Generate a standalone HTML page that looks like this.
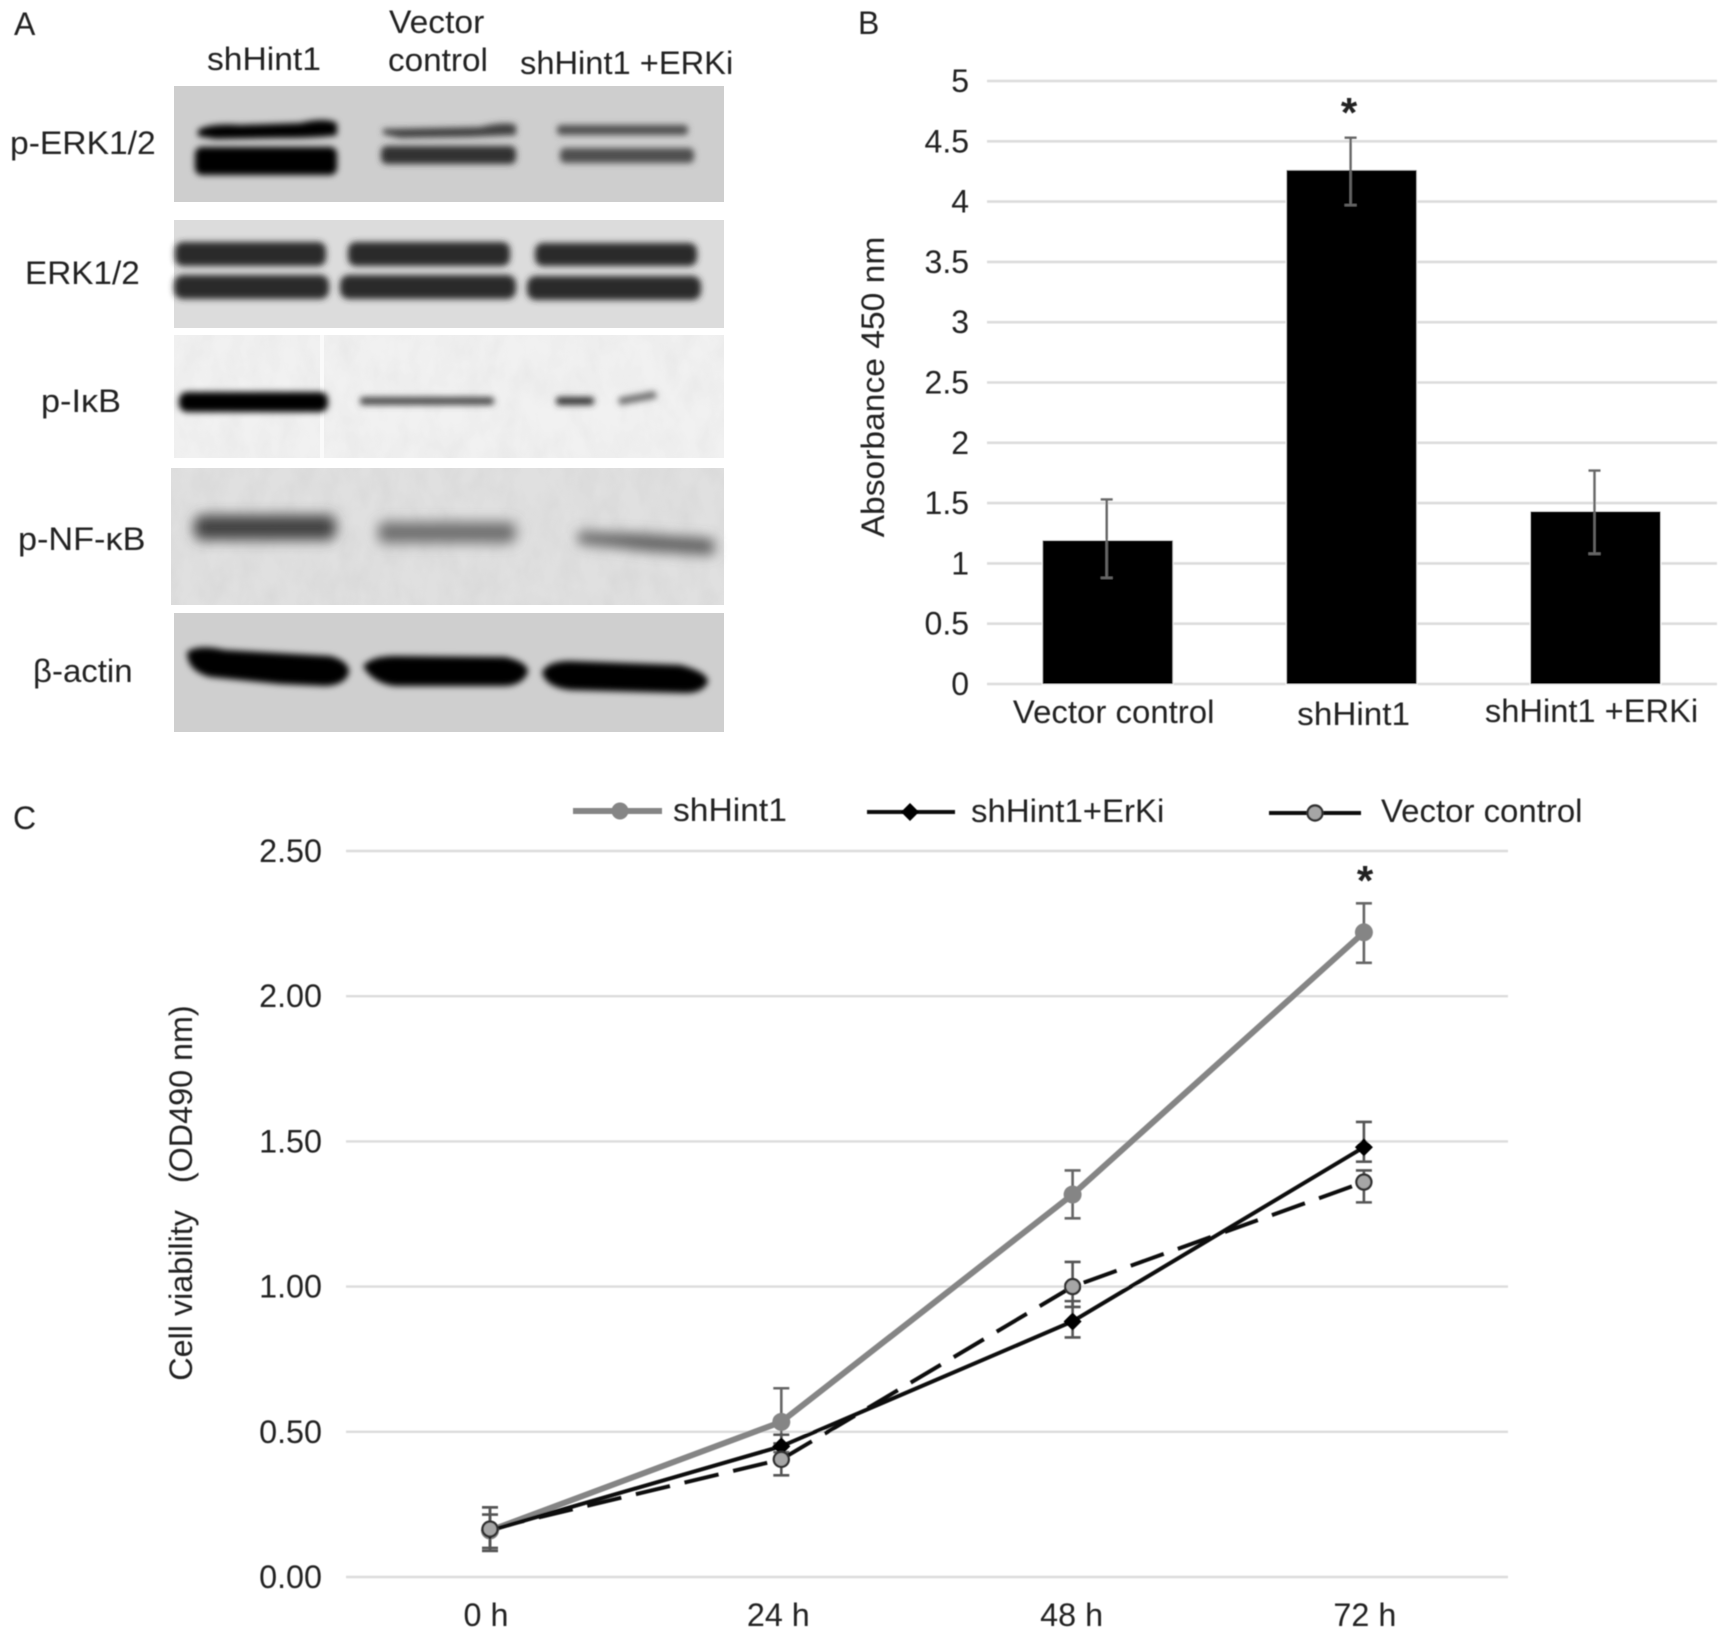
<!DOCTYPE html>
<html lang="en">
<head>
<meta charset="utf-8">
<title>Western blots, absorbance and cell viability</title>
<style>
  html, body { margin: 0; padding: 0; background: #fff; }
  svg { display: block; }
  text { font-family: "Liberation Sans", sans-serif; fill: #222; font-size: 32px; white-space: pre; }
</style>
</head>
<body>
<svg id="fig" xmlns="http://www.w3.org/2000/svg" width="1732" height="1638" viewBox="0 0 1732 1638">
  <defs>
    <filter id="soft" x="-5%" y="-5%" width="110%" height="110%"><feGaussianBlur stdDeviation="0.6"/></filter>
    <filter id="band" x="-10%" y="-80%" width="120%" height="260%"><feGaussianBlur stdDeviation="3.1"/></filter>
    <filter id="bandwide" x="-10%" y="-80%" width="120%" height="260%"><feGaussianBlur stdDeviation="6.5"/></filter>
    <filter id="grain" x="0" y="0" width="100%" height="100%">
      <feTurbulence type="fractalNoise" baseFrequency="0.05 0.03" numOctaves="3" seed="7"/>
      <feColorMatrix type="matrix" values="0 0 0 0 0.45  0 0 0 0 0.45  0 0 0 0 0.45  0.9 0 0 0 -0.3"/>
    </filter>
  </defs>

  <g id="panel-a">
    <g>
      <rect x="174" y="86" width="550" height="116" fill="#cecece"/>
      <g filter="url(#band)">
        <path d="M198 130 Q210 123 240 125 L300 123 Q325 117 337 123 L337 135 Q320 138 280 138 L215 139 L198 136Z" fill="#000"/>
        <rect x="195" y="147" width="142" height="28" rx="7" fill="#000"/>
        <path d="M383 129 L480 127 Q505 121 516 125 L516 135 L470 137 L400 138 L383 134Z" fill="#404040"/>
        <rect x="381" y="146" width="135" height="18" rx="6" fill="#303030"/>
        <rect x="557" y="125" width="131" height="10" rx="4" fill="#505050"/>
        <rect x="560" y="148" width="134" height="15" rx="5" fill="#505050"/>
      </g>
    </g>
    <g>
      <rect x="174" y="220" width="550" height="108" fill="#dcdcdc"/>
      <g filter="url(#band)" fill="#2c2c2c">
        <rect x="175" y="242" width="151" height="24" rx="8"/>
        <rect x="348" y="242" width="162" height="24" rx="8"/>
        <rect x="535" y="243" width="162" height="23" rx="8"/>
        <rect x="174" y="275" width="155" height="24" rx="9"/>
        <rect x="340" y="275" width="176" height="24" rx="9"/>
        <rect x="527" y="276" width="174" height="24" rx="9"/>
      </g>
    </g>
    <g>
      <rect x="174" y="335" width="550" height="123" fill="#f1f1f1"/>
      <rect x="174" y="335" width="550" height="123" filter="url(#grain)" opacity="0.22"/>
      <rect x="320" y="335" width="4" height="123" fill="#fafafa"/>
      <g filter="url(#band)">
        <rect x="179" y="392" width="149" height="20" rx="8" fill="#000"/>
        <rect x="360" y="397" width="134" height="8" rx="3" fill="#4c4c4c"/>
        <rect x="556" y="397" width="38" height="8" rx="3" fill="#303030"/>
        <path d="M618 398 L655 391 L657 398 L620 405Z" fill="#6a6a6a"/>
      </g>
    </g>
    <g>
      <rect x="171" y="468" width="553" height="137" fill="#e0e0e0"/>
      <rect x="171" y="468" width="553" height="137" filter="url(#grain)" opacity="0.3"/>
      <g filter="url(#bandwide)">
        <rect x="194" y="515" width="142" height="25" rx="8" fill="#424242"/>
        <rect x="378" y="522" width="138" height="21" rx="7" fill="#6e6e6e"/>
        <path d="M578 532 L640 534 L714 539 L714 555 L650 551 L578 543Z" fill="#5c5c5c"/>
      </g>
    </g>
    <g>
      <rect x="174" y="613" width="550" height="119" fill="#cfcfcf"/>
      <g filter="url(#band)" fill="#000">
        <path d="M187 652 Q198 644 225 650 L330 656 Q349 661 349 672 Q346 685 325 686 L280 684 L210 677 Q187 671 187 652Z"/>
        <path d="M363 666 Q372 656 395 656 L505 657 Q528 662 528 672 Q523 685 505 686 L395 686 Q372 683 363 666Z"/>
        <path d="M542 672 Q548 661 570 661 L680 665 Q708 672 708 682 Q703 693 685 693 L570 690 Q545 687 542 672Z"/>
      </g>
    </g>
  </g>

  <g id="chart-b" filter="url(#soft)"></g>
  <g id="chart-c" filter="url(#soft)"></g>
  <g id="labels" filter="url(#soft)"></g>
</svg>

<script>
/* Panel B data */
const barCategories = ['Vector control', 'shHint1', 'shHint1 +ERKi'];
const barValues = [1.19, 4.26, 1.43];
const barErrUpper = [1.53, 4.53, 1.77];
const barErrLower = [0.88, 3.97, 1.08];
const barTicks = [0, 0.5, 1, 1.5, 2, 2.5, 3, 3.5, 4, 4.5, 5];
const barTickLabels = ['0', '0.5', '1', '1.5', '2', '2.5', '3', '3.5', '4', '4.5', '5'];

/* Panel C data */
const timeCategories = ['0 h', '24 h', '48 h', '72 h'];
const lineTicks = [0, 0.5, 1, 1.5, 2, 2.5];
const lineTickLabels = ['0.00', '0.50', '1.00', '1.50', '2.00', '2.50'];
const shHintValues = [0.16, 0.534, 1.317, 2.22];
const shHintUpper = [0.24, 0.65, 1.40, 2.32];
const shHintLower = [0.09, 0.43, 1.235, 2.115];
const erkiValues = [0.16, 0.45, 0.88, 1.48];
const erkiUpper = [0.215, 0.49, 0.95, 1.567];
const erkiLower = [0.10, 0.41, 0.825, 1.43];
const vectorValues = [0.165, 0.405, 1.0, 1.36];
const vectorUpper = [0.24, 0.46, 1.085, 1.40];
const vectorLower = [0.09, 0.35, 0.93, 1.29];

const NS = 'http://www.w3.org/2000/svg';
function mk(tag, parent) {
  const el = document.createElementNS(NS, tag);
  parent.appendChild(el);
  return el;
}
function setAll(el, attrs) {
  for (const k in attrs) el.setAttribute(k, attrs[k]);
  return el;
}
function fitText(el, x, y, str, stretch) {
  el.textContent = str;
  el.setAttribute('x', x);
  el.setAttribute('y', y);
  if (stretch && stretch !== 1) {
    const w = el.getComputedTextLength();
    el.setAttribute('textLength', (w * stretch).toFixed(1));
    el.setAttribute('lengthAdjust', 'spacingAndGlyphs');
  }
  return el;
}

const chartB = document.getElementById('chart-b');
const chartC = document.getElementById('chart-c');
const labels = document.getElementById('labels');

/* ---------- Panel B ---------- */
const bY = v => 684 - v * 120.6;
const bX = i => 1107.7 + i * 243.9;
const barWidth = 130;
const barLabelStretch = [1.03, 1.04, 1.02];
const barLabelNudge = [6, 2, -4];
const barLabelBase = [723, 725, 722];

barTicks.forEach((t, i) => {
  const g = mk('line', chartB);
  
  
  setAll(g, { x1: 987, x2: 1717, y1: bY(t), y2: bY(t), stroke: '#dcdcdc', 'stroke-width': 2.6 });
  const tx = mk('text', labels);
  
  
  tx.setAttribute('text-anchor', 'end');
  fitText(tx, 969, bY(t) + 11, barTickLabels[i], 1);
});

barValues.forEach((v, i) => {
  const r = mk('rect', chartB);
  
  
  setAll(r, { x: bX(i) - barWidth / 2, y: bY(v), width: barWidth, height: bY(0) - bY(v), fill: '#000', stroke: '#fff', 'stroke-width': 2, 'paint-order': 'stroke' });
  const e = mk('path', chartB);
  
  
  const top = bY(barErrUpper[i]), bot = bY(barErrLower[i]), c = bX(i) - 1;
  setAll(e, { d: `M${c} ${top}V${bot}M${c - 6} ${top}H${c + 6}M${c - 6} ${bot}H${c + 6}`, fill: 'none', stroke: '#666', 'stroke-width': 2.4 });
  const tx = mk('text', labels);
  
  
  tx.setAttribute('text-anchor', 'middle');
  fitText(tx, bX(i) + barLabelNudge[i], barLabelBase[i], barCategories[i], barLabelStretch[i]);
});

/* ---------- Panel C ---------- */
const cY = v => 1577 - v * 290.4;
const cX = i => 490 + i * 291.3;
const timeNudge = [-4, -3, -1, 1];

lineTicks.forEach((t, i) => {
  const g = mk('line', chartC);
  
  
  setAll(g, { x1: 346, x2: 1508, y1: cY(t), y2: cY(t), stroke: '#dcdcdc', 'stroke-width': 2.4 });
  const tx = mk('text', labels);
  
  
  tx.setAttribute('text-anchor', 'end');
  fitText(tx, 322, cY(t) + 11, lineTickLabels[i], 1.01);
});

timeCategories.forEach((c, i) => {
  const tx = mk('text', labels);
  
  
  tx.setAttribute('text-anchor', 'middle');
  fitText(tx, cX(i) + timeNudge[i], 1626, c, 1.01);
});

function drawErrors(upper, lower, color, width) {
  upper.forEach((u, i) => {
    const e = mk('path', chartC);
    
    
    const top = cY(u), bot = cY(lower[i]), c = cX(i);
    setAll(e, { d: `M${c} ${top}V${bot}M${c - 8} ${top}H${c + 8}M${c - 8} ${bot}H${c + 8}`, fill: 'none', stroke: color, 'stroke-width': width });
  });
}
function pointsOf(vals) {
  return vals.map((v, i) => cX(i).toFixed(1) + ',' + cY(v).toFixed(1)).join(' ');
}

drawErrors(shHintUpper, shHintLower, '#666', 2.6);
drawErrors(erkiUpper, erkiLower, '#555', 2.6);
drawErrors(vectorUpper, vectorLower, '#555', 2.6);

const vecLine = mk('polyline', chartC);


setAll(vecLine, { points: pointsOf(vectorValues), fill: 'none', stroke: '#111', 'stroke-width': 4, 'stroke-dasharray': '35 15' });

const hintLine = mk('polyline', chartC);


setAll(hintLine, { points: pointsOf(shHintValues), fill: 'none', stroke: '#858585', 'stroke-width': 6 });

const erkiLine = mk('polyline', chartC);


setAll(erkiLine, { points: pointsOf(erkiValues), fill: 'none', stroke: '#0a0a0a', 'stroke-width': 4 });

shHintValues.forEach((v, i) => {
  const m = mk('circle', chartC);
  
  
  setAll(m, { cx: cX(i), cy: cY(v), r: 9, fill: '#858585' });
});
erkiValues.forEach((v, i) => {
  const m = mk('path', chartC);
  
  
  const x = cX(i), y = cY(v);
  setAll(m, { d: `M${x} ${y - 9}L${x + 9} ${y}L${x} ${y + 9}L${x - 9} ${y}Z`, fill: '#000' });
});
vectorValues.forEach((v, i) => {
  const m = mk('circle', chartC);
  
  
  setAll(m, { cx: cX(i), cy: cY(v), r: 7.5, fill: '#a6a6a6', stroke: '#333', 'stroke-width': 2.4 });
});

/* ---------- Static labels and legend ---------- */
const statics = [
  ['panel-a-label', 'A', 14, 35, 1],
  ['panel-b-label', 'B', 858, 34, 1],
  ['panel-c-label', 'C', 13, 829, 1],
  ['lane-label-shhint1', 'shHint1', 207, 70, 1.05],
  ['lane-label-vector', 'Vector', 389, 33, 1.05],
  ['lane-label-control', 'control', 388, 71, 1.04],
  ['lane-label-shhint1-erki', 'shHint1 +ERKi', 520, 74, 1.02],
  ['blot-label-p-erk', 'p-ERK1/2', 10, 154, 1.05],
  ['blot-label-erk', 'ERK1/2', 25, 284, 1.04],
  ['blot-label-p-ikb', 'p-I\u03BAB', 41, 412, 1.07],
  ['blot-label-p-nf-kb', 'p-NF-\u03BAB', 18, 550, 1.07],
  ['blot-label-beta-actin', '\u03B2-actin', 33, 682, 1.03],
  ['legend-label-shhint1', 'shHint1', 673, 821, 1.05],
  ['legend-label-shhint1-erki', 'shHint1+ErKi', 971, 822, 1.03],
  ['legend-label-vector-control', 'Vector control', 1381, 822, 1.03]
];
statics.forEach(s => {
  const tx = mk('text', labels);
  
  
  fitText(tx, s[2], s[3], s[1], s[4]);
});

const yTitleB = mk('text', labels);


setAll(yTitleB, { 'text-anchor': 'middle', transform: 'rotate(-90 884 387)' });
fitText(yTitleB, 884, 387, 'Absorbance 450 nm', 1.05);

const yTitleC = mk('text', labels);


setAll(yTitleC, { 'text-anchor': 'middle', transform: 'rotate(-90 192 1193)' });
fitText(yTitleC, 192, 1193, 'Cell viability   (OD490 nm)', 1.01);

const starB = mk('text', labels);


setAll(starB, { 'text-anchor': 'middle', 'font-weight': 'bold', style: 'font-size:42px' });
fitText(starB, 1349, 127, '*', 1);

const starC = mk('text', labels);


setAll(starC, { 'text-anchor': 'middle', 'font-weight': 'bold', style: 'font-size:42px' });
fitText(starC, 1365, 895, '*', 1);

/* legend swatches */
const l1 = mk('line', chartC);


setAll(l1, { x1: 573, x2: 662, y1: 811, y2: 811, stroke: '#858585', 'stroke-width': 6 });
const l1m = mk('circle', chartC);


setAll(l1m, { cx: 620, cy: 811, r: 8.5, fill: '#858585' });

const l2 = mk('line', chartC);


setAll(l2, { x1: 867, x2: 955, y1: 812, y2: 812, stroke: '#0a0a0a', 'stroke-width': 4 });
const l2m = mk('path', chartC);


setAll(l2m, { d: 'M910 803L919 812L910 821L901 812Z', fill: '#000' });

const l3 = mk('line', chartC);


setAll(l3, { x1: 1269, x2: 1361, y1: 813, y2: 813, stroke: '#0a0a0a', 'stroke-width': 4 });
const l3m = mk('circle', chartC);


setAll(l3m, { cx: 1315, cy: 813, r: 7.5, fill: '#a6a6a6', stroke: '#333', 'stroke-width': 2.4 });
</script>
</body>
</html>
